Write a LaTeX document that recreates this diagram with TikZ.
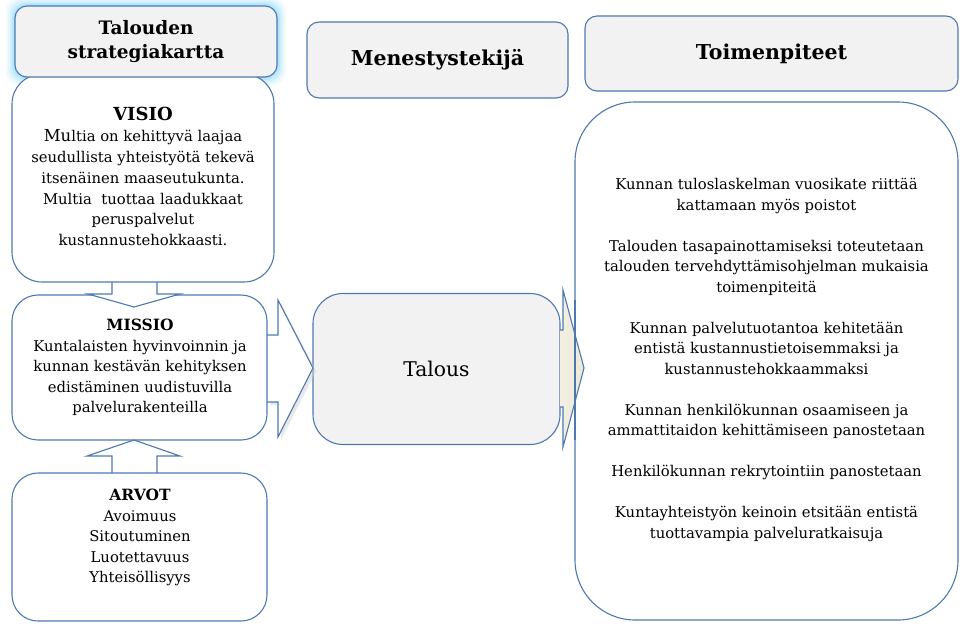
\documentclass[tikz,border=0pt]{standalone}
\usepackage{fontspec}
\setmainfont{DejaVu Serif}
\definecolor{bordc}{HTML}{4E79B0}
\definecolor{hdrfill}{HTML}{F2F2F2}
\definecolor{glowc}{HTML}{8FD8F8}
\definecolor{beigec}{HTML}{EEE9D6}
\begin{document}
\begin{tikzpicture}[x=1pt,y=-1pt,
  box/.style={draw=bordc, line width=1.1pt, fill=white, rounded corners=#1, inner sep=0pt, align=center},
  hdr/.style={box=#1, fill=hdrfill},
  txt/.style={align=center, inner sep=0pt, font=\fontsize{14.8}{20.5}\selectfont},
  hfont/.style={font=\fontsize{20.5}{24}\selectfont\bfseries},
  arrowline/.style={draw=bordc, line width=1.1pt, line join=miter},
]
\useasboundingbox (0,0) rectangle (960,626);

% glow around the title box
\foreach \e/\o in {9/0.10,7/0.15,5/0.22,3/0.32,1.5/0.45}{
  \fill[glowc, opacity=\o, rounded corners=14pt] (15-\e,6-\e) rectangle (277+\e,77+\e);
}

% left column
\node[box=30pt, minimum width=262pt, minimum height=208pt] (visio) at (143,178) {};
\node[txt, font=\fontsize{14.8}{20.8}\selectfont] (visiotxt) at (143,176.5)
  {{\fontsize{18}{22}\selectfont\bfseries VISIO}\\[0.5pt]
   {\fontsize{16.5}{20}\selectfont Mu}ltia on kehittyvä laajaa\\
   seudullista yhteistyötä tekevä\\
   itsenäinen maaseutukunta.\\
   Multia\ \ tuottaa laadukkaat\\
   peruspalvelut\\
   kustannustehokkaasti.};
\node[hdr=12pt, minimum width=262pt, minimum height=71pt, font=\fontsize{18.5}{24}\selectfont\bfseries] (title) at (146,41.5)
  {Talouden\\strategiakartta};

\node[box=26pt, minimum width=255pt, minimum height=145pt] (missio) at (139.5,367.5) {};
\node[txt] (missiotxt) at (140,367.5)
  {{\fontsize{15.5}{20.5}\selectfont\bfseries MISSIO}\\
   Kuntalaisten hyvinvoinnin ja\\
   kunnan kestävän kehityksen\\
   edistäminen uudistuvilla\\
   palvelurakenteilla};

\node[box=26pt, minimum width=255pt, minimum height=148pt] (arvot) at (139.5,547) {};
\node[txt] (arvottxt) at (140,537.5)
  {{\fontsize{15.5}{20.5}\selectfont\bfseries ARVOT}\\ Avoimuus\\ Sitoutuminen\\ Luotettavuus\\ Yhteisöllisyys};

% arrow VISIO -> MISSIO
\fill[white] (112,283.5) -- (112,294) -- (88,294) -- (134,307) -- (180,294) -- (157,294) -- (157,283.5) -- cycle;
\draw[arrowline] (112,282) -- (112,294) -- (88,294) -- (134,307) -- (180,294) -- (157,294) -- (157,282);

% arrow ARVOT -> MISSIO
\fill[white] (112,471.5) -- (112,456) -- (87,456) -- (134,440) -- (180,456) -- (157,456) -- (157,471.5) -- cycle;
\draw[arrowline] (112,473) -- (112,456) -- (87,456) -- (134,440) -- (180,456) -- (157,456) -- (157,473);

% middle column
\node[hdr=12pt, minimum width=261pt, minimum height=76pt, hfont] (menestys) at (437.5,60)
  {Menestystekijä};
\node[hdr=30pt, minimum width=247pt, minimum height=151pt, font=\fontsize{20.3}{24}\selectfont] (talous) at (436.5,369)
  {Talous};

% arrow MISSIO -> Talous
\fill[gray!35, opacity=0.5] (270,338) -- (281,338) -- (281,303) -- (316,371) -- (281,440) -- (281,405) -- (270,405) -- cycle;
\fill[white] (268.5,335) -- (278,335) -- (278,300) -- (313,368) -- (278,437) -- (278,402) -- (268.5,402) -- cycle;
\draw[arrowline] (267,335) -- (278,335) -- (278,300) -- (313,368) -- (278,437) -- (278,402) -- (267,402);

% right column
\node[hdr=12pt, minimum width=373pt, minimum height=75pt, hfont] (toimhdr) at (771.5,53.5)
  {Toimenpiteet};
\node[box=60pt, minimum width=383pt, minimum height=518pt] (toim) at (766.5,361) {};
\node[txt] (toimtxt) at (766.5,360)
  {Kunnan tuloslaskelman vuosikate riittää\\
   kattamaan myös poistot\\[20.5pt]
   Talouden tasapainottamiseksi toteutetaan\\
   talouden tervehdyttämisohjelman mukaisia\\
   toimenpiteitä\\[20.5pt]
   Kunnan palvelutuotantoa kehitetään\\
   entistä kustannustietoisemmaksi ja\\
   kustannustehokkaammaksi\\[20.5pt]
   Kunnan henkilökunnan osaamiseen ja\\
   ammattitaidon kehittämiseen panostetaan\\[20.5pt]
   Henkilökunnan rekrytointiin panostetaan\\[20.5pt]
   Kuntayhteistyön keinoin etsitään entistä\\
   tuottavampia palveluratkaisuja};

% arrow Talous -> Toimenpiteet
\shade[left color=beigec!70!white, right color=beigec] (560,330) -- (563,330) -- (563,290) -- (584,368) -- (563,447) -- (563,407) -- (560,407) -- cycle;
\draw[arrowline] (560,330) -- (563,330) -- (563,290) -- (584,368) -- (563,447) -- (563,407) -- (560,407);
\draw[draw=bordc, line width=1.1pt] (575,300) -- (575,440);
\end{tikzpicture}
\end{document}
